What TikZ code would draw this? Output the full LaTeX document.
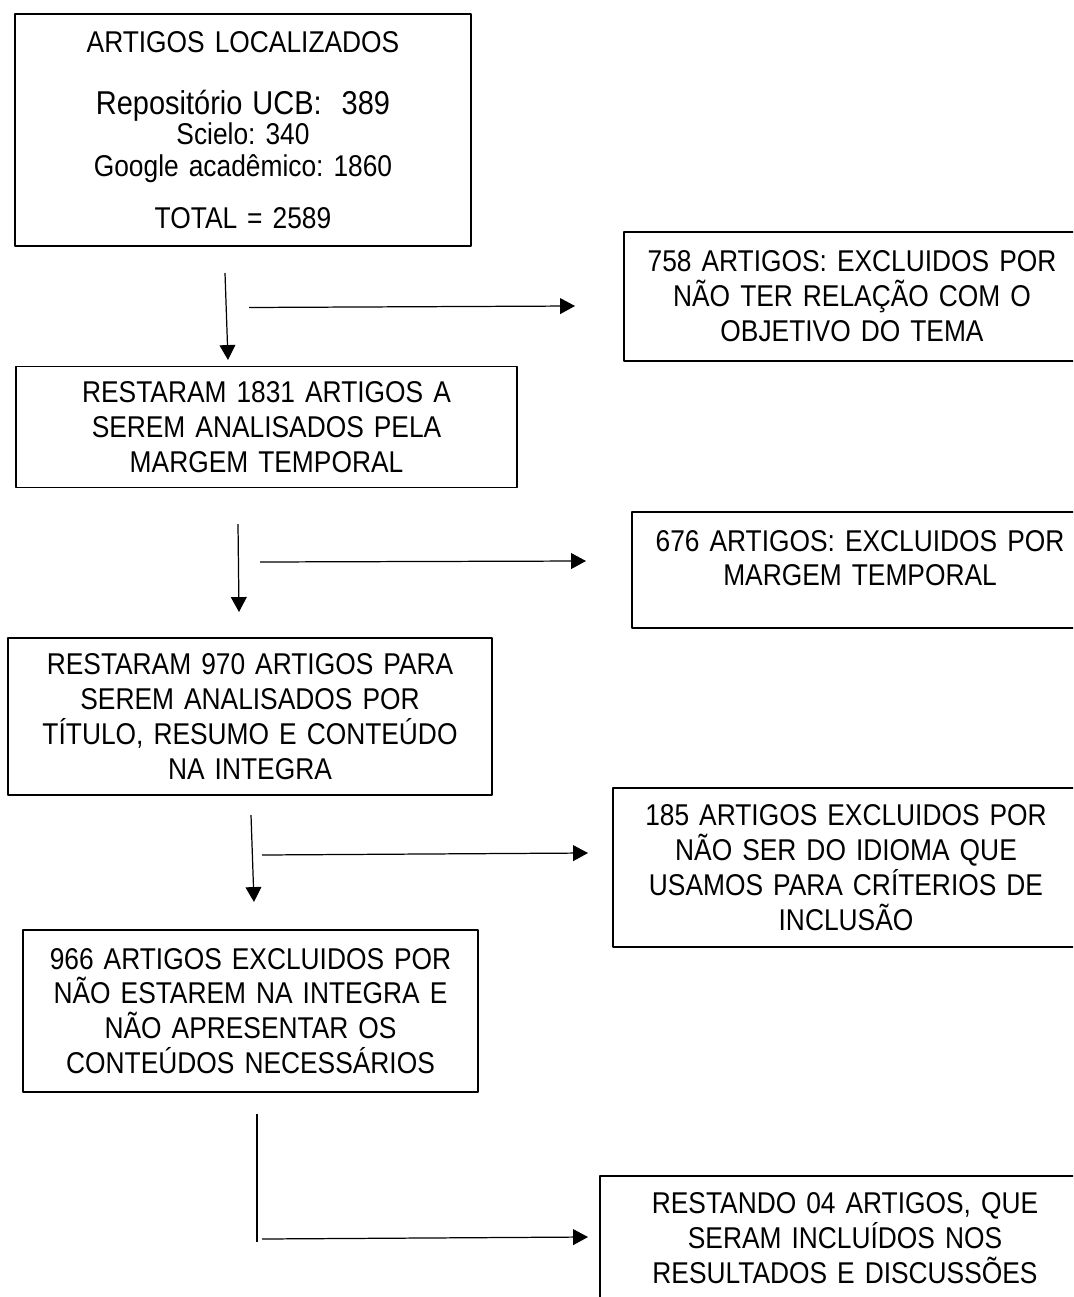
\documentclass[tikz,border=0pt]{standalone}
\usepackage{fontspec}
\newfontfamily\boxfont[FakeStretch=0.877,WordSpace=0.877]{Liberation Sans}
\usetikzlibrary{arrows.meta}
\frenchspacing

\begin{document}
\begin{tikzpicture}[x=0.02cm,y=-0.02cm,line join=round,>={Triangle[length=8.5pt,width=9pt]},
	caixa/.style={draw,line width=0.8pt,inner xsep=0pt,inner ysep=2pt,align=center,
		font=\boxfont\fontsize{17.1}{19.84}\selectfont},
	seta/.style={->,line width=0.7pt}]
	\useasboundingbox (0,0) rectangle (1073,1297);
	\clip (0,0) rectangle (1073,1297);
	% coluna da esquerda
	\node[caixa,text width=9.12cm,minimum height=4.64cm] (loc) at (243,130)
		{ARTIGOS LOCALIZADOS\\[15.8pt]
		{\fontsize{18.8}{19.84}\selectfont Repositório UCB:~~389}\\[-3.1pt]
		Scielo: 340\\[-1.3pt]
		Google acadêmico: 1860\\[9.5pt]
		TOTAL = 2589};
	\node[caixa,text width=10.02cm,minimum height=2.42cm] (r1831) at (266.5,427)
		{RESTARAM 1831 ARTIGOS A\\SEREM ANALISADOS PELA\\MARGEM TEMPORAL};
	\node[caixa,text width=9.68cm,minimum height=3.14cm] (r970) at (250,716.5)
		{RESTARAM 970 ARTIGOS PARA\\SEREM ANALISADOS POR\\TÍTULO, RESUMO E CONTEÚDO\\NA INTEGRA};
	\node[caixa,text width=9.1cm,minimum height=3.24cm] (e966) at (250.5,1011)
		{966 ARTIGOS EXCLUIDOS POR\\NÃO ESTAREM NA INTEGRA E\\NÃO APRESENTAR OS\\CONTEÚDOS NECESSÁRIOS};
	% coluna da direita
	\node[caixa,text width=9.12cm,minimum height=2.58cm] (e758) at (852,296.5)
		{758 ARTIGOS: EXCLUIDOS POR\\NÃO TER RELAÇÃO COM O\\OBJETIVO DO TEMA};
	\node[caixa,text width=9.12cm,minimum height=2.32cm] (e676) at (860,570)
		{676 ARTIGOS: EXCLUIDOS POR\\MARGEM TEMPORAL\rule[-13.6pt]{0pt}{13.6pt}};
	\node[caixa,text width=9.32cm,minimum height=3.18cm] (e185) at (846,867.5)
		{185 ARTIGOS EXCLUIDOS POR\\NÃO SER DO IDIOMA QUE\\USAMOS PARA CRÍTERIOS DE\\INCLUSÃO};
	\node[caixa,text width=9.8cm,minimum height=2.8cm] (r04) at (845,1246)
		{RESTANDO 04 ARTIGOS, QUE\\SERAM INCLUÍDOS NOS\\RESULTADOS E DISCUSSÕES\rule[-9pt]{0pt}{9pt}};
	% setas
	\path
	(225,273) coordinate (v1a) (228,360) coordinate (v1b)
	(249,307.5) coordinate (h1a) (575,306) coordinate (h1b)
	(238,524) coordinate (v2a) (239,612) coordinate (v2b)
	(260,562) coordinate (h2a) (586,561) coordinate (h2b)
	(251,815) coordinate (v3a) (254,902) coordinate (v3b)
	(262,855) coordinate (h3a) (588,853) coordinate (h3b)
	(257,1114) coordinate (v4a) (257,1242) coordinate (v4b)
	(262,1239) coordinate (h4a) (588,1237) coordinate (h4b);
	\foreach \a/\b in {v1a/v1b,h1a/h1b,v2a/v2b,h2a/h2b,v3a/v3b,h3a/h3b,h4a/h4b}
		\draw[seta] (\a)--(\b);
	\draw[line width=0.7pt] (v4a)--(v4b);
\end{tikzpicture}
\end{document}
